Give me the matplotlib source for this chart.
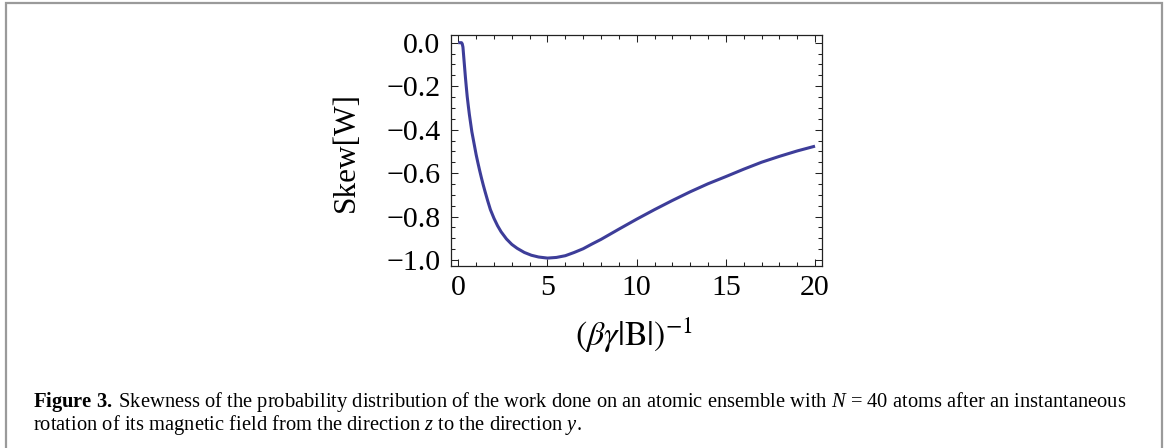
import matplotlib
matplotlib.use("Agg")
import matplotlib.pyplot as plt
from matplotlib.patches import Rectangle
from matplotlib.ticker import MultipleLocator

# values
inv_field = [0, 0.18, 0.22, 0.26, 0.30, 0.35, 0.40, 0.45, 0.50, 0.56, 0.62,
             0.69, 0.76, 0.84, 0.92, 1.0, 1.1, 1.2, 1.3, 1.4, 1.5, 1.65, 1.8,
             2.0, 2.2, 2.4, 2.7, 3.0, 3.3, 3.7, 4.1, 4.5, 5.0, 5.5, 6.0, 6.5,
             7.0, 7.5, 8.0, 9.0, 10, 11, 12, 13, 14, 15, 16, 17, 18, 19, 20]
skew = [0, 0, -0.005, -0.02, -0.06, -0.11, -0.16, -0.205, -0.248, -0.29,
        -0.33, -0.37, -0.41, -0.445, -0.48, -0.515, -0.553, -0.589, -0.623,
        -0.655, -0.685, -0.728, -0.768, -0.808, -0.842, -0.870, -0.903,
        -0.928, -0.946, -0.965, -0.978, -0.986, -0.991, -0.988, -0.980,
        -0.965, -0.948, -0.926, -0.905, -0.858, -0.812, -0.768, -0.726,
        -0.686, -0.649, -0.616, -0.582, -0.550, -0.523, -0.498, -0.476]

x_ticks = [0, 5, 10, 15, 20]
y_ticks = [0.0, -0.2, -0.4, -0.6, -0.8, -1.0]

caption_1 = (r"$\mathbf{Figure\ 3.}\;$Skewness of the probability distribution of the "
             r"work done on an atomic ensemble with $N$ = 40 atoms after an instantaneous")
caption_2 = (r"rotation of its magnetic field from the direction $z$ to the direction $y$.")

plt.rcParams["font.family"] = ["Liberation Serif", "DejaVu Serif"]
plt.rcParams["mathtext.fontset"] = "custom"
plt.rcParams["mathtext.rm"] = "Liberation Serif"
plt.rcParams["mathtext.it"] = "Liberation Serif:italic"
plt.rcParams["mathtext.bf"] = "Liberation Serif:bold"

W, H = 1165, 448
fig = plt.figure(figsize=(W / 100, H / 100), dpi=100)

# grey frame round the whole figure
fig.add_artist(Rectangle((5.5 / W, -0.1), 1156.5 / W, 1.1 - 3.5 / H,
                         transform=fig.transFigure, fill=False,
                         ec="#9a9a9a", lw=1.6))

ax = fig.add_axes([450.7 / W, 1 - 265.7 / H, 371.3 / W, 230.7 / H])
ax.plot(inv_field, skew, color="#3d3d99", lw=2.2, solid_capstyle="butt",
        solid_joinstyle="round")

ax.set_xlim(-0.426, 20.39)
ax.set_ylim(-1.026, 0.0354)
ax.set_xticks(x_ticks)
ax.set_yticks(y_ticks)
ax.set_yticklabels([f"{v:.1f}".replace("-", "\u2212") for v in y_ticks])
ax.xaxis.set_minor_locator(MultipleLocator(1))
ax.yaxis.set_minor_locator(MultipleLocator(0.05))
ax.tick_params(which="both", direction="in", top=True, right=True,
               width=0.75, labelsize=21.5, color="#222222")
ax.tick_params(which="major", length=5)
ax.tick_params(which="minor", length=2.8)
ax.tick_params(axis="x", pad=7)
ax.tick_params(axis="y", pad=7.5)
for s in ax.spines.values():
    s.set_linewidth(0.9)
    s.set_color("#222222")

ax.set_ylabel("Skew[W]", fontsize=22.5, va="center")
ax.yaxis.set_label_coords(-0.282, 0.495)
ax.set_xlabel(r"$(\beta\gamma|\mathrm{B}|)^{-1}$", fontsize=24.5,
              va="baseline", math_fontfamily="stix")
ax.xaxis.set_label_coords(0.494, -0.348)

fig.text(33 / W, 1 - 407 / H, caption_1, fontsize=14.75, va="baseline")
fig.text(33 / W, 1 - 430 / H, caption_2, fontsize=14.75, va="baseline")

fig.savefig("out.png", dpi=100)
